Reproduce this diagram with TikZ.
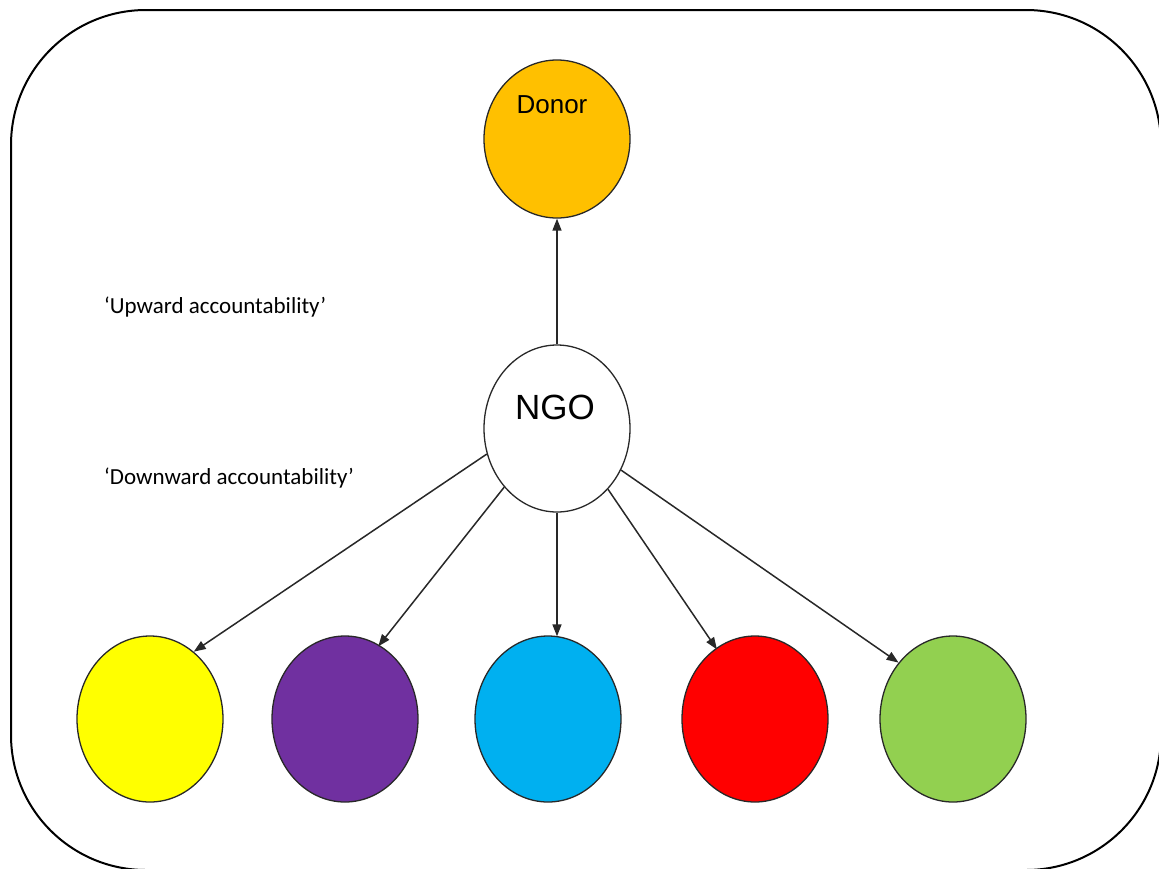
\documentclass[tikz,border=0pt]{standalone}
\usepackage{fontspec}
\setmainfont{Liberation Sans}
\newfontfamily\labfont{Carlito}
\usetikzlibrary{shapes.geometric,arrows.meta}
\definecolor{donorc}{HTML}{FFC000}
\definecolor{yel}{HTML}{FFFF00}
\definecolor{pur}{HTML}{7030A0}
\definecolor{blu}{HTML}{00B0F0}
\definecolor{redc}{HTML}{FF0000}
\definecolor{gre}{HTML}{92D050}
\definecolor{edge}{HTML}{282828}
\tikzset{
  blob/.style={ellipse, draw=edge, line width=1.3pt, inner sep=0pt,
    minimum width=146pt, minimum height=166pt},
  conn/.style={draw=edge, line width=1.5pt, -{Triangle[length=12pt,width=9pt]}},
  lab/.style={anchor=west, inner sep=0pt, font=\labfont\fontsize{23}{26}\selectfont},
}
\begin{document}
\begin{tikzpicture}[x=1pt,y=-1pt]
\useasboundingbox (0,0) rectangle (1159,868);
\begin{scope}
\clip (0,0) rectangle (1159,868);
\draw[line width=2pt, rounded corners=135pt] (11,10) rectangle (1161,870);
\end{scope}

\node[blob, fill=donorc, minimum height=158pt] (donor) at (557,139) {};
\node[inner sep=0pt, font=\fontsize{26}{30}\selectfont] (donortxt) at (552,105) {Donor};

\node[blob, fill=white, minimum height=167pt] (ngo) at (557,428.5) {};
\node[inner sep=0pt, font=\fontsize{35}{40}\selectfont] (ngotxt) at (555,407) {NGO};

\node[blob, fill=yel] (b1) at (150,719) {};
\node[blob, fill=pur] (b2) at (345,719) {};
\node[blob, fill=blu] (b3) at (548,719) {};
\node[blob, fill=redc] (b4) at (755,719) {};
\node[blob, fill=gre] (b5) at (953,719) {};

\node[lab] (up) at (104,307) {‘Upward accountability’};
\node[lab] (down) at (104,478) {‘Downward accountability’};

\draw[conn] (ngo.north) -- (donor.south);
\draw[conn] (ngo.200.7) -- (b1.57);
\draw[conn] (ngo.228.8) -- ([yshift=-2pt]b2.66);
\draw[conn] (ngo.south) -- ([yshift=-1pt]ngo.south |- b3.north);
\draw[conn] (ngo.310.6) -- ([yshift=-2pt]b4.118);
\draw[conn] (ngo.327.4) -- (b5.134);
\end{tikzpicture}
\end{document}
